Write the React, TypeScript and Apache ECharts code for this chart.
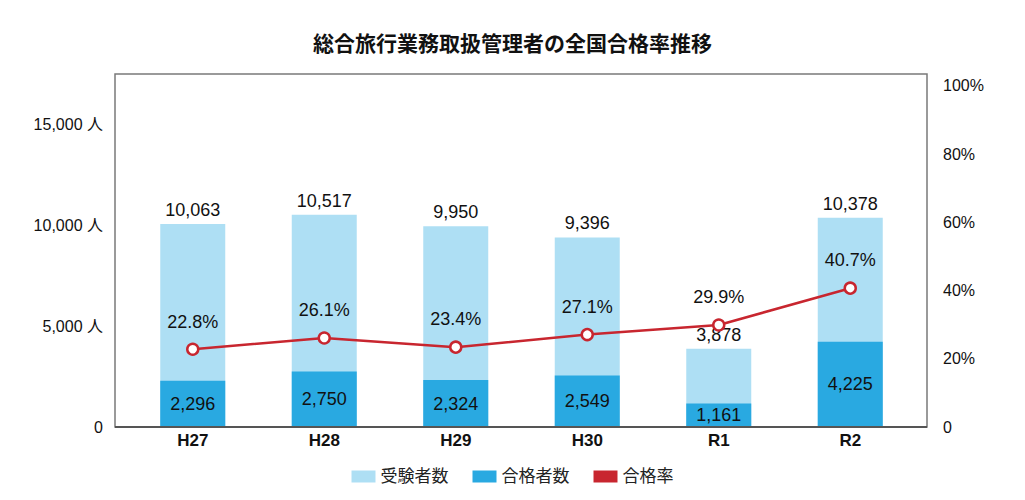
import React, { useEffect, useRef } from "react";
import * as echarts from "echarts";

const categories = ["H27", "H28", "H29", "H30", "R1", "R2"];
const examinees = [10063, 10517, 9950, 9396, 3878, 10378];
const passers = [2296, 2750, 2324, 2549, 1161, 4225];
const passRates = [22.8, 26.1, 23.4, 27.1, 29.9, 40.7];

const FONT = "'Liberation Sans', 'Noto Sans CJK JP', sans-serif";
const RED = "#c8262f";
const fmt = (v: number) => v.toLocaleString("en-US");

export default function App() {
  const ref = useRef<HTMLDivElement>(null);
  useEffect(() => {
    if (!ref.current) return;
    const chart = echarts.init(ref.current, undefined, { renderer: "svg" });
    chart.setOption({
      animation: false,
      backgroundColor: "#ffffff",
      textStyle: { fontFamily: FONT },
      title: {
        text: "総合旅行業務取扱管理者の全国合格率推移",
        left: "center",
        top: 28,
        textStyle: { fontSize: 21, fontWeight: "bold", color: "#111", fontFamily: FONT },
      },
      legend: {
        bottom: 10,
        left: "center",
        icon: "rect",
        itemWidth: 24,
        itemHeight: 12,
        itemGap: 24,
        textStyle: { fontSize: 17, color: "#222", fontFamily: FONT },
        data: [
          { name: "受験者数" },
          { name: "合格者数" },
          { name: "合格率", itemStyle: { color: RED, borderWidth: 0 } },
        ],
      },
      grid: { left: 127, right: 109, top: 74, bottom: 73 },
      graphic: [
        {
          type: "rect",
          shape: { x: 115, y: 74, width: 812, height: 353 },
          style: { fill: "none", stroke: "#7a7a7a", lineWidth: 1.5 },
          silent: true,
          z: 0,
        },
        {
          type: "line",
          shape: { x1: 115, y1: 427, x2: 927, y2: 427 },
          style: { stroke: "#555", lineWidth: 2 },
          silent: true,
          z: 100,
        },
      ],
      xAxis: {
        type: "category",
        data: categories,
        axisLine: { show: false },
        axisTick: { show: false },
        axisLabel: { fontSize: 17, fontWeight: "bold", color: "#111", margin: 5, fontFamily: FONT },
      },
      yAxis: [
        {
          type: "value",
          min: 0,
          max: 17500,
          interval: 5000,
          splitLine: { show: false },
          axisLine: { show: false },
          axisTick: { show: false },
          axisLabel: {
            showMaxLabel: false,
            margin: 24,
            fontSize: 16,
            color: "#111",
            fontFamily: FONT,
            formatter: (v: number) => (v % 5000 !== 0 ? "" : v === 0 ? "0" : `${fmt(v)} 人`),
          },
        },
        {
          type: "value",
          min: 0,
          max: 103.5,
          interval: 20,
          splitLine: { show: false },
          axisLine: { show: false },
          axisTick: { show: false },
          axisLabel: {
            showMaxLabel: false,
            margin: 27,
            fontSize: 16,
            color: "#111",
            fontFamily: FONT,
            formatter: (v: number) => (v % 20 !== 0 ? "" : v === 0 ? "0" : `${v}%`),
          },
        },
      ],
      series: [
        {
          name: "受験者数",
          type: "bar",
          data: examinees,
          barWidth: 65,
          barGap: "-100%",
          itemStyle: { color: "#aedff4" },
          label: {
            show: true,
            position: "top",
            distance: 5,
            fontSize: 18,
            color: "#111",
            fontFamily: FONT,
            formatter: (p: any) => fmt(p.value),
          },
          z: 2,
        },
        {
          name: "合格者数",
          type: "bar",
          data: passers,
          barWidth: 65,
          barGap: "-100%",
          itemStyle: { color: "#29a9e1" },
          label: {
            show: true,
            position: "inside",
            fontSize: 18,
            color: "#111",
            fontFamily: FONT,
            formatter: (p: any) => fmt(p.value),
          },
          z: 3,
        },
        {
          name: "合格率",
          type: "line",
          yAxisIndex: 1,
          data: passRates,
          symbol: "circle",
          symbolSize: 11,
          color: RED,
          lineStyle: { color: RED, width: 2.5 },
          itemStyle: { color: "#ffffff", borderColor: RED, borderWidth: 2.5 },
          label: {
            show: true,
            position: "top",
            distance: 12,
            fontSize: 18,
            color: "#111",
            fontFamily: FONT,
            formatter: (p: any) => `${p.value}%`,
          },
          z: 5,
        },
      ],
    });
    return () => chart.dispose();
  }, []);
  return (
    <div
      ref={ref}
      style={{ position: "fixed", left: 0, top: 0, width: 1025, height: 500 }}
    />
  );
}
